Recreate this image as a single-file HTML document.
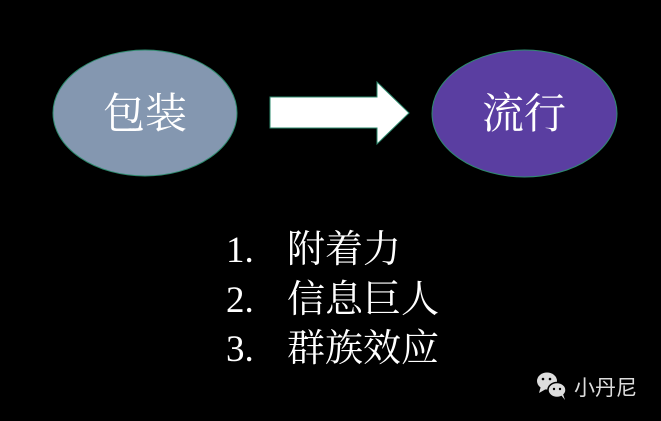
<!DOCTYPE html>
<html><head><meta charset="utf-8"><style>
html,body{margin:0;padding:0;background:#000;width:661px;height:421px;overflow:hidden}
svg{display:block}
.c{font-family:"Noto Serif CJK SC","Noto Serif CJK JP","Liberation Serif",serif}
</style></head><body>
<svg width="661" height="421" viewBox="0 0 661 421" xmlns="http://www.w3.org/2000/svg">
<rect width="661" height="421" fill="#000"/>
<ellipse cx="145" cy="113" rx="92" ry="63" fill="#8497b0" stroke="#2e8b6e" stroke-width="1"/>
<text class="c" x="145" y="128" text-anchor="middle" font-size="42" fill="#fff">包装</text>
<polygon points="270,97 377,97 377,82 409,113 377,144 377,128 270,128" fill="#fff" stroke="#2e8b6e" stroke-width="1"/>
<ellipse cx="524.5" cy="113.5" rx="92.5" ry="63.5" fill="#5a3ea1" stroke="#2e8b6e" stroke-width="1"/>
<text class="c" x="524" y="128" text-anchor="middle" font-size="42" fill="#fff">流行</text>
<g font-family="'Liberation Serif',serif" font-size="37" fill="#fff">
<text x="226" y="262">1.</text>
<text x="226" y="312">2.</text>
<text x="226" y="361">3.</text>
</g>
<g class="c" font-size="38" fill="#fff">
<text x="287" y="262">附着力</text>
<text x="287" y="312">信息巨人</text>
<text x="287" y="361">群族效应</text>
</g>
<g fill="#ddd">
<ellipse cx="547" cy="381" rx="10" ry="8.5"/>
<polygon points="541,386 539,393 546,389"/>
<ellipse cx="557" cy="390" rx="9" ry="7.5" stroke="#000" stroke-width="1.5"/>
<polygon points="561,395 565,400 563,394"/>
</g>
<g fill="#000"><circle cx="543" cy="379" r="1.3"/><circle cx="550" cy="379" r="1.3"/><circle cx="554" cy="389" r="1.2"/><circle cx="560" cy="389" r="1.2"/></g>
<text x="574" y="395" font-family="'Liberation Sans','Noto Sans CJK SC',sans-serif" font-size="21" fill="#ddd">小丹尼</text>
</svg>
</body></html>
